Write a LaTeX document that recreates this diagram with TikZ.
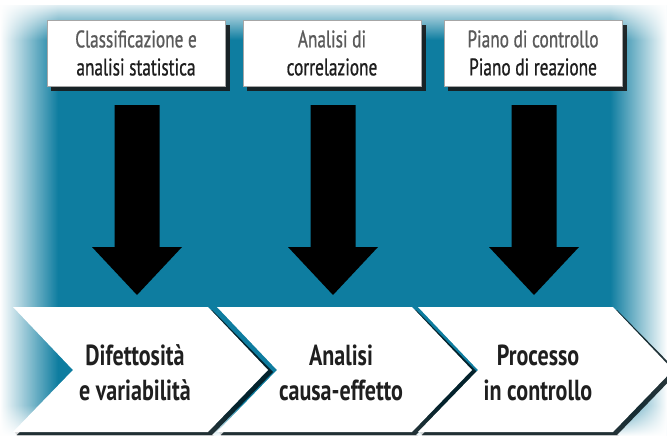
\documentclass[tikz,border=0pt]{standalone}
\usepackage{fontspec}
\setmainfont{PT Sans}[FakeStretch=0.76]
\newfontfamily\boxfont{PT Sans}[FakeStretch=0.72, FakeBold=0.8]
\usetikzlibrary{fadings}
\definecolor{tealbg}{RGB}{14,125,160}
\definecolor{txtgray}{RGB}{90,90,90}
\definecolor{txtdark}{RGB}{30,30,30}
\begin{document}
\begin{tikzpicture}[x=1pt,y=-1pt,
  topbox/.style={draw=black!35, line width=0.6pt, fill=white, minimum width=178pt, minimum height=66pt,
    align=center, font=\boxfont\fontsize{24}{28}\selectfont, inner sep=0pt},
  boxshadow/.style={fill=black!90, opacity=0.9},
  chtext/.style={align=center, font=\fontsize{29}{35}\selectfont\bfseries, text=black!88},
  chevshape/.style={fill=white},
  chevshadow/.style={fill=black!85!tealbg, opacity=0.85},
  blockarrow/.style={fill=black}
]
\useasboundingbox (0,0) rectangle (667,436);
% background
\fill[tealbg] (0,0) rectangle (667,436);
\fill[white, path fading=east] (0,0) rectangle (58,436);
\fill[white, path fading=west] (610,0) rectangle (667,436);
\fill[white, path fading=south] (0,0) rectangle (667,40);
\fill[white, path fading=north] (0,405) rectangle (667,436);
\fill[white] (0,0) rectangle (667,5);
% top boxes
\foreach \x in {136,332,533}{
  \fill[boxshadow] (\x-85,25) rectangle (\x+94,91);
}
\node[topbox] (b1) at (136,53) {\textcolor{txtgray}{Classificazione e}\\\textcolor{txtdark}{analisi statistica}};
\node[topbox] (b2) at (332,53) {\textcolor{txtgray}{Analisi di}\\\textcolor{txtdark}{correlazione}};
\node[topbox] (b3) at (533,53) {\textcolor{txtgray}{Piano di controllo}\\\textcolor{txtdark}{Piano di reazione}};
% block arrows
\foreach \x in {137,333,534}{
  \fill[blockarrow] (\x-22.5,105) -- (\x+22.5,105) -- (\x+22.5,247) -- (\x+45,247)
     -- (\x,295) -- (\x-45,247) -- (\x-22.5,247) -- cycle;
}
% chevrons
\foreach \L in {13,217,418}{
  \fill[black!20, opacity=0.7] (\L+2,432) -- (\L+197,432) -- (\L+201,436) -- (\L+4,436) -- cycle;
  \fill[chevshadow] (\L+4,310) -- (\L+199,310) -- (\L+260,372) -- (\L+199,435) -- (\L+4,435) -- (\L+64,372) -- cycle;
  \fill[chevshape] (\L,307) -- (\L+195,307) -- (\L+255,370) -- (\L+195,432) -- (\L,432) -- (\L+60,370) -- cycle;
}
\node[chtext] (c1) at (135,373) {Difettosità\\e variabilità};
\node[chtext] (c2) at (341,373) {Analisi\\causa-effetto};
\node[chtext] (c3) at (538,373) {Processo\\in controllo};
\end{tikzpicture}
\end{document}
